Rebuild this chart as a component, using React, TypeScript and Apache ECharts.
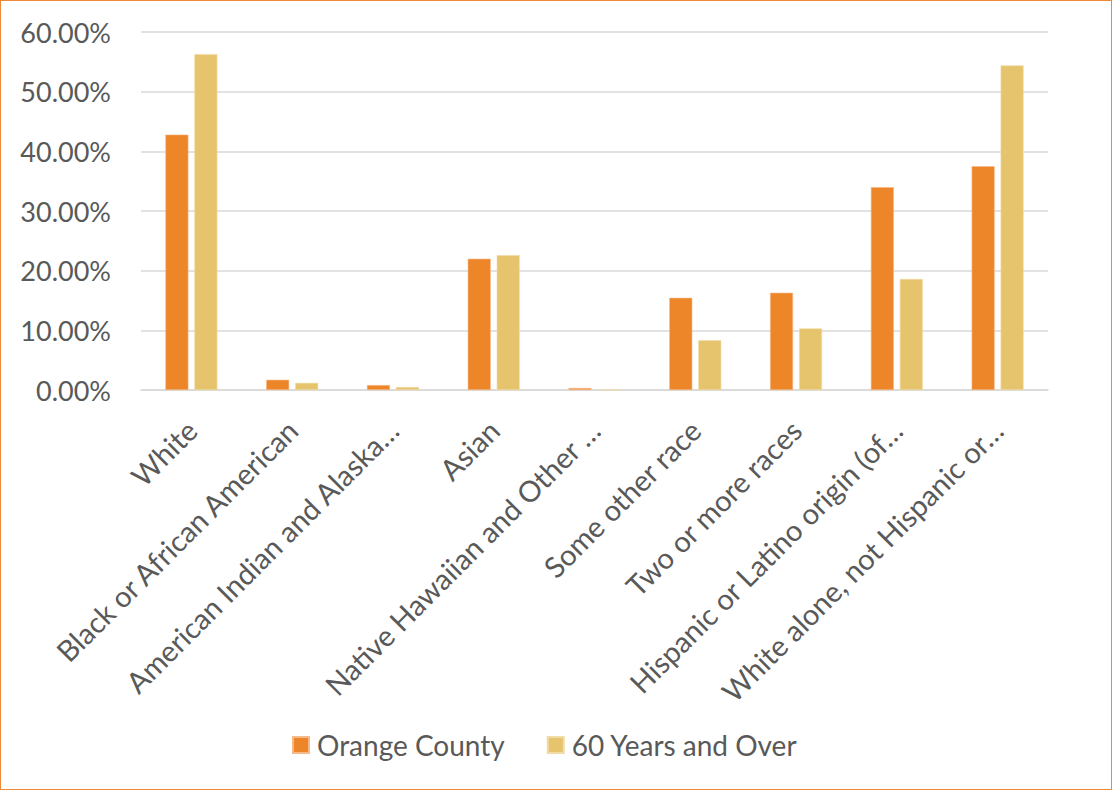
import React, { useEffect, useRef } from "react";
import * as echarts from "echarts";

const categories = [
  "White",
  "Black or African American",
  "American Indian and Alaska…",
  "Asian",
  "Native Hawaiian and Other …",
  "Some other race",
  "Two or more races",
  "Hispanic or Latino origin (of…",
  "White alone, not Hispanic or…",
];
const orangeCounty = [42.8, 1.72, 0.83, 22.0, 0.33, 15.45, 16.3, 34.0, 37.5];
const sixtyPlus = [56.3, 1.2, 0.5, 22.6, 0.05, 8.33, 10.33, 18.6, 54.4];
const seriesNames = ["Orange County", "60 Years and Over"];

const FONT = "Lato, 'Open Sans', sans-serif";
const TEXT = "#595959";

export default function App() {
  const ref = useRef<HTMLDivElement>(null);
  useEffect(() => {
    if (!ref.current) return;
    const chart = echarts.init(ref.current, undefined, { renderer: "svg" });
    chart.setOption({
      animation: false,
      backgroundColor: "#ffffff",
      textStyle: { fontFamily: FONT, color: TEXT },
      grid: { left: 140, right: 63, top: 31, bottom: 399, containLabel: false },
      legend: {
        bottom: 25,
        left: 286,
        itemWidth: 16,
        itemHeight: 16,
        itemGap: 42,
        icon: "rect",
        textStyle: { fontFamily: FONT, color: TEXT, fontSize: 28, padding: [0, 0, 0, 3] },
        data: seriesNames,
      },
      xAxis: {
        type: "category",
        data: categories,
        axisLine: { show: true, lineStyle: { color: "#d9d9d9", width: 1.5 } },
        axisTick: { show: false },
        axisLabel: {
          rotate: 45,
          interval: 0,
          margin: 35,
          fontSize: 29,
          fontFamily: FONT,
          color: TEXT,
        },
      },
      yAxis: {
        type: "value",
        min: 0,
        max: 60,
        interval: 10,
        axisLine: { show: false },
        axisTick: { show: false },
        splitLine: { lineStyle: { color: "#d9d9d9", width: 1.5 } },
        axisLabel: {
          margin: 30,
          fontSize: 27,
          fontFamily: FONT,
          color: TEXT,
          formatter: (v: number) => v.toFixed(2) + "%",
        },
      },
      series: [
        {
          name: seriesNames[0],
          type: "bar",
          data: orangeCounty,
          barWidth: 23,
          barGap: "26%",
          itemStyle: { color: "#ED8529", borderColor: "#F6B98A", borderWidth: 0.6 },
        },
        {
          name: seriesNames[1],
          type: "bar",
          data: sixtyPlus,
          barWidth: 23,
          barGap: "26%",
          itemStyle: { color: "#E6C46D", borderColor: "#F1DCA6", borderWidth: 0.6 },
        },
      ],
    });
    return () => chart.dispose();
  }, []);
  return (
    <div
      style={{
        position: "fixed",
        left: 0,
        top: 0,
        width: 1112,
        height: 790,
        boxSizing: "border-box",
        border: "1.5px solid #ED8A3A",
        background: "#fff",
      }}
    >
      <div ref={ref} style={{ width: "100%", height: "100%" }} />
    </div>
  );
}
